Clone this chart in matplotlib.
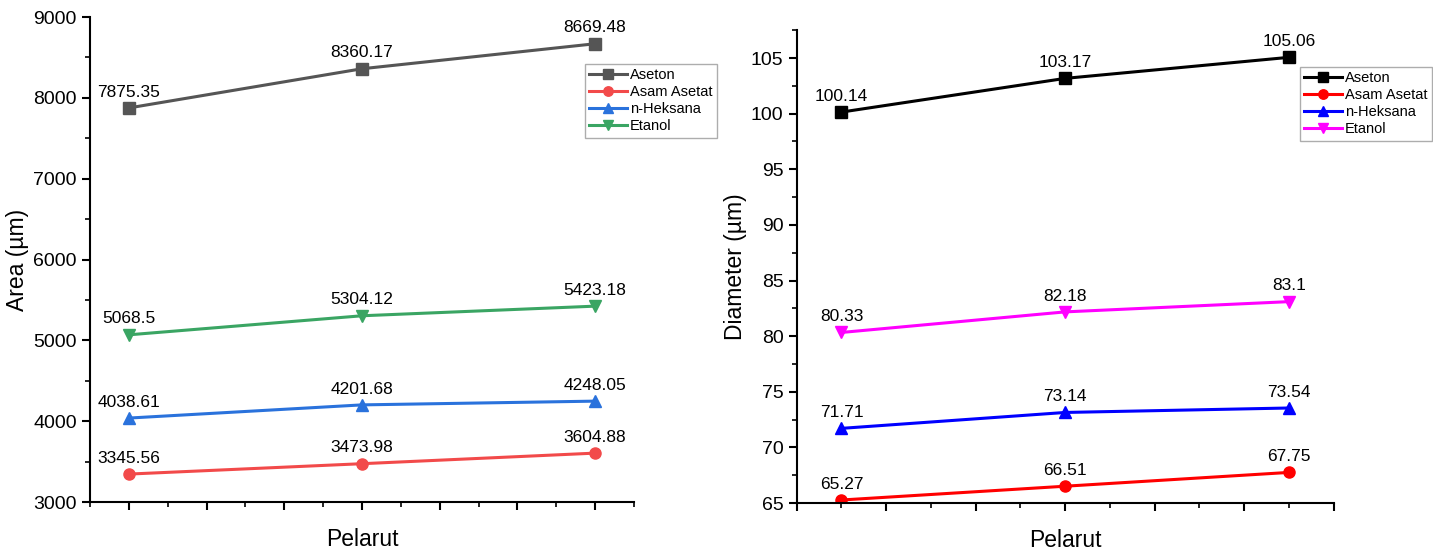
import matplotlib
matplotlib.use("Agg")
import matplotlib.pyplot as plt
from matplotlib.ticker import MultipleLocator, NullFormatter

plt.rcParams["font.family"] = ["Liberation Sans", "DejaVu Sans"]

pos = [1, 2, 3]
series = ["Aseton", "Asam Asetat", "n-Heksana", "Etanol"]
markers = ["s", "o", "^", "v"]

area = {
    "Aseton": [7875.35, 8360.17, 8669.48],
    "Asam Asetat": [3345.56, 3473.98, 3604.88],
    "n-Heksana": [4038.61, 4201.68, 4248.05],
    "Etanol": [5068.5, 5304.12, 5423.18],
}
area_labels = {
    "Aseton": ["7875.35", "8360.17", "8669.48"],
    "Asam Asetat": ["3345.56", "3473.98", "3604.88"],
    "n-Heksana": ["4038.61", "4201.68", "4248.05"],
    "Etanol": ["5068.5", "5304.12", "5423.18"],
}
diam = {
    "Aseton": [100.14, 103.17, 105.06],
    "Asam Asetat": [65.27, 66.51, 67.75],
    "n-Heksana": [71.71, 73.14, 73.54],
    "Etanol": [80.33, 82.18, 83.1],
}
diam_labels = {
    "Aseton": ["100.14", "103.17", "105.06"],
    "Asam Asetat": ["65.27", "66.51", "67.75"],
    "n-Heksana": ["71.71", "73.14", "73.54"],
    "Etanol": ["80.33", "82.18", "83.1"],
}

left_colors = ["#555555", "#f24a4a", "#2a72dc", "#3aa563"]
right_colors = ["#000000", "#ff0000", "#0000ff", "#ff00ff"]

fig = plt.figure(figsize=(14.33, 5.53), dpi=100)
ax1 = fig.add_axes([0.0628, 0.0922, 0.3796, 0.877])
ax2 = fig.add_axes([0.556, 0.0904, 0.3747, 0.855])


def draw(ax, data, labels, colors, dy):
    for name, m, c in zip(series, markers, colors):
        ax.plot(pos, data[name], "-", marker=m, color=c, lw=2.2, ms=8, label=name)
        for x, y, t in zip(pos, data[name], labels[name]):
            ax.annotate(t, (x, y), xytext=(0, dy), textcoords="offset points",
                        ha="center", va="bottom", fontsize=12.5)
    for s in ("top", "right"):
        ax.spines[s].set_visible(False)
    for s in ("left", "bottom"):
        ax.spines[s].set_linewidth(1.5)
    ax.tick_params(which="major", direction="out", length=6, width=1.5,
                   labelsize=14)
    ax.tick_params(which="minor", direction="out", length=3.5, width=1.2)
    ax.xaxis.set_major_formatter(NullFormatter())
    ax.set_xlabel("Pelarut", fontsize=16.5, labelpad=9)


def add_legend(ax, x0, y0):
    ax.legend(loc="upper left", bbox_to_anchor=(x0 / 1433, 1 - y0 / 553),
              bbox_transform=fig.transFigure, fontsize=10.5, frameon=True,
              fancybox=False, edgecolor="#999999", handlelength=2.6,
              handletextpad=0.2, borderpad=0.3, labelspacing=0.2,
              borderaxespad=0, markerscale=0.85)


draw(ax1, area, area_labels, left_colors, 6)
ax1.set_xlim(1 - 1 / 6, 3 + 1 / 6)
ax1.set_ylim(3000, 9000)
ax1.xaxis.set_major_locator(MultipleLocator(1 / 3))
ax1.xaxis.set_minor_locator(MultipleLocator(1 / 6))
ax1.yaxis.set_major_locator(MultipleLocator(1000))
ax1.yaxis.set_minor_locator(MultipleLocator(500))
ax1.set_ylabel("Area (µm)", fontsize=16.5, labelpad=3)
add_legend(ax1, 585, 64)

draw(ax2, diam, diam_labels, right_colors, 6)
ax2.set_xlim(0.8, 3.2)
ax2.set_ylim(65, 107.5)
ax2.xaxis.set_major_locator(MultipleLocator(0.4))
ax2.xaxis.set_minor_locator(MultipleLocator(0.2))
ax2.yaxis.set_major_locator(MultipleLocator(5))
ax2.yaxis.set_minor_locator(MultipleLocator(2.5))
ax2.set_ylabel("Diameter (µm)", fontsize=16.5, labelpad=3)
add_legend(ax2, 1300, 67)

fig.savefig("out.png", dpi=100)
